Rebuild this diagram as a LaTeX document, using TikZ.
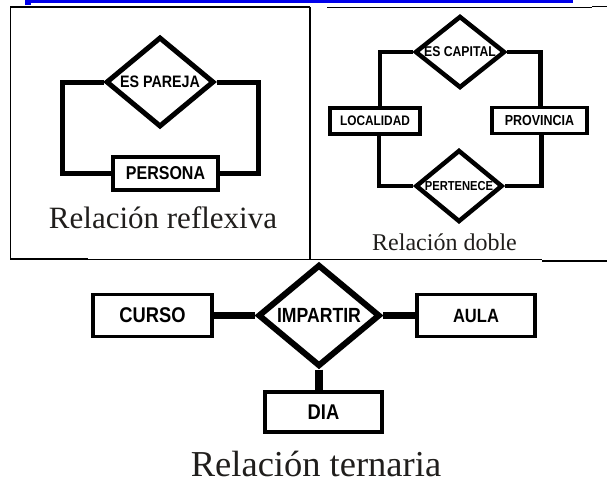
\documentclass[tikz,border=0pt]{standalone}
\usepackage{fontspec}
\setmainfont{Liberation Serif}
\newfontfamily\etiqueta{Liberation Sans}[FakeStretch=0.86]
\usetikzlibrary{shapes.geometric}
\definecolor{enlaceazul}{RGB}{0,0,235}
\definecolor{gristitulo}{RGB}{32,30,28}

\begin{document}
\begin{tikzpicture}[x=1pt, y=-1pt,
    entidad/.style={rectangle, draw, line width=3.5pt, inner sep=0pt},
    relacion/.style={diamond, draw, line width=4.5pt, inner sep=0pt, aspect=1.2},
    enlace/.style={line width=4.5pt},
    titulo/.style={anchor=base, text=gristitulo}]
    \useasboundingbox (0,0) rectangle (607,483);

    % enlace y tabla
    \draw[enlaceazul, line width=2.6pt] (25,1.3) -- (573,1.3);
    \fill[enlaceazul] (25,0) rectangle (31,4.8);
    \draw[line width=1.6pt] (10.5,259) -- (10.5,7) -- (310,7);
    \draw[line width=1.6pt] (310,7) -- (310,259);
    \draw[line width=0.8pt] (327,7) -- (592,7);
    \draw[line width=1.8pt] (592,6.5) -- (607,6.5);
    \draw[line width=2pt] (10,259) -- (88,259);
    \draw[line width=1pt] (88,259) -- (542,259);
    \draw[line width=2pt] (542,260.5) -- (607,260.5);

    % relacion reflexiva
    \node[relacion, line width=5pt, minimum width=108pt, minimum height=90pt,
          font=\etiqueta\bfseries\fontsize{16.6}{16.6}\selectfont] (pareja) at (160,82) {ES PAREJA};
    \node[entidad, minimum width=105pt, minimum height=33pt,
          font=\etiqueta\bfseries\fontsize{18.6}{18.6}\selectfont] (persona) at (165.5,173.5) {PERSONA};
    \draw[enlace, line width=5pt] (pareja.west) -- ++(-41,0) |- (persona.west);
    \draw[enlace, line width=5pt] (pareja.east) -- ++(42,0) |- (persona.east);
    \node[titulo, font=\fontsize{31}{31}\selectfont] (treflexiva) at (163,228) {Relación reflexiva};

    % relacion doble
    \node[relacion, minimum width=90pt, minimum height=72pt,
          font=\etiqueta\bfseries\fontsize{14.2}{14.2}\selectfont] (capital) at (460,52) {ES CAPITAL};
    \node[relacion, minimum width=87pt, minimum height=72pt,
          font=\etiqueta\bfseries\fontsize{13}{13}\selectfont] (pertenece) at (459,186) {PERTENECE};
    \node[entidad, minimum width=90pt, minimum height=26pt,
          font=\etiqueta\bfseries\fontsize{13.8}{13.8}\selectfont] (localidad) at (375,121) {LOCALIDAD};
    \node[entidad, minimum width=95pt, minimum height=26pt,
          font=\etiqueta\bfseries\fontsize{14.5}{14.5}\selectfont] (provincia) at (539.5,120.5) {PROVINCIA};
    \draw[enlace] (capital.west) -| ([xshift=5pt]localidad.north);
    \draw[enlace] (capital.east) -| ([xshift=1pt]provincia.north);
    \draw[enlace] ([xshift=4pt]localidad.south) |- (pertenece.west);
    \draw[enlace] ([xshift=2pt]provincia.south) |- (pertenece.east);
    \node[titulo, font=\fontsize{24}{24}\selectfont] (tdoble) at (444.5,250) {Relación doble};

    % relacion ternaria
    \node[relacion, line width=6pt, minimum width=122pt, minimum height=102pt,
          font=\etiqueta\bfseries\fontsize{20.5}{20.5}\selectfont] (impartir) at (319,315.5) {IMPARTIR};
    \node[entidad, minimum width=119pt, minimum height=42pt,
          font=\etiqueta\bfseries\fontsize{21.3}{21.3}\selectfont] (curso) at (152.5,315.5) {CURSO};
    \node[entidad, minimum width=118pt, minimum height=42pt,
          font=\etiqueta\bfseries\fontsize{19.2}{19.2}\selectfont] (aula) at (476,315.5) {AULA};
    \node[entidad, minimum width=117pt, minimum height=40pt,
          font=\etiqueta\bfseries\fontsize{21.3}{21.3}\selectfont] (dia) at (323.5,412) {DIA};
    \draw[enlace, line width=7pt] (curso.east) -- (impartir.west);
    \draw[enlace, line width=7pt] (impartir.east) -- (aula.west);
    \draw[enlace, line width=7.5pt] (impartir.south) -- (impartir.south |- dia.north);
    \node[titulo, font=\fontsize{36.5}{36.5}\selectfont] (tternaria) at (316,476) {Relación ternaria};

\end{tikzpicture}
\end{document}
